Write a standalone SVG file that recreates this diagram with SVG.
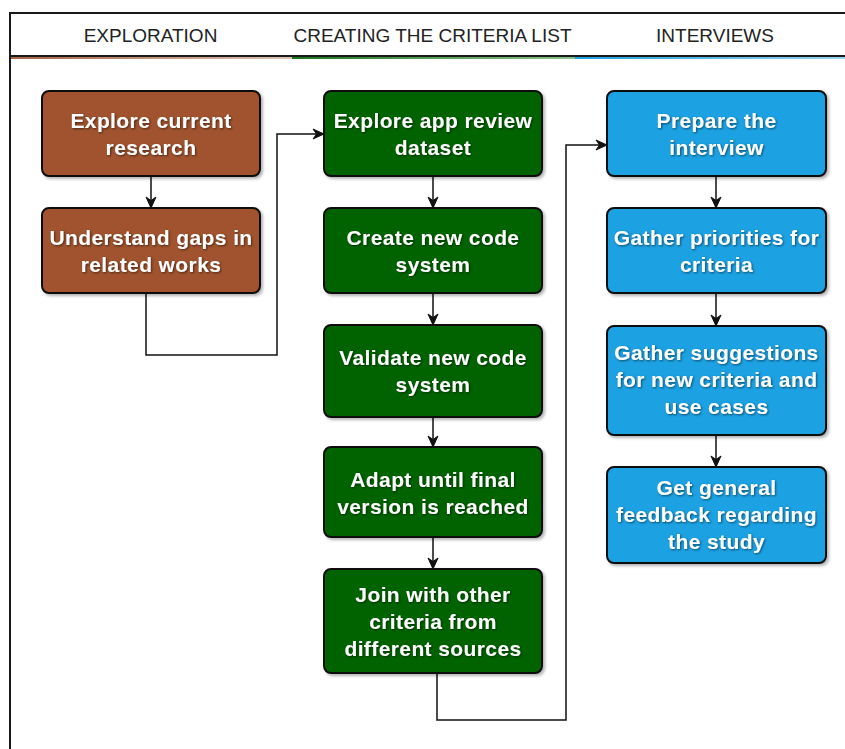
<svg xmlns="http://www.w3.org/2000/svg" width="845" height="749" viewBox="0 0 845 749">
  <style>
    .lane-title { font-family: "Liberation Sans", Arial, sans-serif; font-size: 19px; fill: #222222; text-anchor: middle; }
    .box { stroke: #111111; stroke-width: 2; filter: url(#boxShadow); }
    .brown { fill: #A0522D; }
    .green { fill: #006400; }
    .blue { fill: #1BA1E2; }
    .label { font-family: "Liberation Sans", Arial, sans-serif; font-size: 21px; font-weight: bold; fill: #ffffff; text-anchor: middle; letter-spacing: 0.4px; filter: url(#textShadow); }
    .edge { fill: none; stroke: #111111; stroke-width: 1.5; marker-end: url(#arrow); }
    .frame { fill: none; stroke: #1a1a1a; stroke-width: 2; }
  </style>
  <defs>
    <marker id="arrow" markerUnits="userSpaceOnUse" markerWidth="14" markerHeight="12" refX="12" refY="6" orient="auto">
      <path d="M1,1 L12,6 L1,11 L4.5,6 Z" fill="#111111" stroke="#111111" stroke-width="1"/>
    </marker>
    <filter id="boxShadow" x="-10%" y="-10%" width="125%" height="130%">
      <feDropShadow dx="2" dy="2" stdDeviation="1.5" flood-color="#000000" flood-opacity="0.3"/>
    </filter>
    <filter id="textShadow" x="-10%" y="-30%" width="120%" height="170%">
      <feDropShadow dx="1" dy="1" stdDeviation="1.2" flood-color="#000000" flood-opacity="0.55"/>
    </filter>
    <linearGradient id="gBrown" x1="0" y1="0" x2="1" y2="0">
      <stop offset="0" stop-color="#A0522D" stop-opacity="0.9"/>
      <stop offset="1" stop-color="#A0522D" stop-opacity="0.35"/>
    </linearGradient>
    <linearGradient id="gGreen" x1="0" y1="0" x2="1" y2="0">
      <stop offset="0" stop-color="#006400" stop-opacity="0.9"/>
      <stop offset="1" stop-color="#3a9a3a" stop-opacity="0.6"/>
    </linearGradient>
    <linearGradient id="gBlue" x1="0" y1="0" x2="1" y2="0">
      <stop offset="0" stop-color="#1BA1E2" stop-opacity="1"/>
      <stop offset="1" stop-color="#1BA1E2" stop-opacity="0.45"/>
    </linearGradient>
  </defs>

  <rect x="0" y="0" width="845" height="749" fill="#ffffff"/>

  <!-- pool frame and lane header -->
  <g id="lanes">
    <rect x="11" y="57" width="281" height="2" fill="url(#gBrown)"/>
    <rect x="292" y="57" width="283" height="2" fill="url(#gGreen)"/>
    <rect x="575" y="57" width="270" height="2" fill="url(#gBlue)"/>
    <path class="frame" d="M846,13 H10 V750"/>
    <path class="frame" d="M10,56 H846"/>
    <text class="lane-title" x="150.5" y="42">EXPLORATION</text>
    <text class="lane-title" x="432.5" y="42">CREATING THE CRITERIA LIST</text>
    <text class="lane-title" x="715" y="42">INTERVIEWS</text>
  </g>

  <!-- connectors -->
  <g id="connectors">
    <path class="edge" d="M151,176 V208"/>
    <path class="edge" d="M146,293 V355 H277 V134 H324"/>
    <path class="edge" d="M433,176 V208"/>
    <path class="edge" d="M433,293 V325"/>
    <path class="edge" d="M433,417 V447"/>
    <path class="edge" d="M433,537 V569"/>
    <path class="edge" d="M437,673 V720 H566 V145 H607"/>
    <path class="edge" d="M716,176 V208"/>
    <path class="edge" d="M716,293 V326"/>
    <path class="edge" d="M716,435 V467"/>
  </g>

  <!-- exploration lane -->
  <g id="explore-research">
    <rect class="box brown" x="42" y="91" width="218" height="85" rx="7"/>
    <text class="label" x="151" y="128">Explore current</text>
    <text class="label" x="151" y="155">research</text>
  </g>
  <g id="understand-gaps">
    <rect class="box brown" x="42" y="208" width="218" height="85" rx="7"/>
    <text class="label" x="151" y="245">Understand gaps in</text>
    <text class="label" x="151" y="272">related works</text>
  </g>

  <!-- criteria list lane -->
  <g id="explore-dataset">
    <rect class="box green" x="324" y="91" width="218" height="85" rx="7"/>
    <text class="label" x="433" y="128">Explore app review</text>
    <text class="label" x="433" y="155">dataset</text>
  </g>
  <g id="create-code-system">
    <rect class="box green" x="324" y="208" width="218" height="85" rx="7"/>
    <text class="label" x="433" y="245">Create new code</text>
    <text class="label" x="433" y="272">system</text>
  </g>
  <g id="validate-code-system">
    <rect class="box green" x="324" y="325" width="218" height="92" rx="7"/>
    <text class="label" x="433" y="365">Validate new code</text>
    <text class="label" x="433" y="392">system</text>
  </g>
  <g id="adapt-final-version">
    <rect class="box green" x="324" y="447" width="218" height="90" rx="7"/>
    <text class="label" x="433" y="487">Adapt until final</text>
    <text class="label" x="433" y="514">version is reached</text>
  </g>
  <g id="join-criteria">
    <rect class="box green" x="324" y="569" width="218" height="104" rx="7"/>
    <text class="label" x="433" y="602">Join with other</text>
    <text class="label" x="433" y="629">criteria from</text>
    <text class="label" x="433" y="656">different sources</text>
  </g>

  <!-- interviews lane -->
  <g id="prepare-interview">
    <rect class="box blue" x="607" y="91" width="219" height="85" rx="7"/>
    <text class="label" x="716.5" y="128">Prepare the</text>
    <text class="label" x="716.5" y="155">interview</text>
  </g>
  <g id="gather-priorities">
    <rect class="box blue" x="607" y="208" width="219" height="85" rx="7"/>
    <text class="label" x="716.5" y="245">Gather priorities for</text>
    <text class="label" x="716.5" y="272">criteria</text>
  </g>
  <g id="gather-suggestions">
    <rect class="box blue" x="607" y="326" width="219" height="109" rx="7"/>
    <text class="label" x="716.5" y="360">Gather suggestions</text>
    <text class="label" x="716.5" y="387">for new criteria and</text>
    <text class="label" x="716.5" y="414">use cases</text>
  </g>
  <g id="general-feedback">
    <rect class="box blue" x="607" y="467" width="219" height="96" rx="7"/>
    <text class="label" x="716.5" y="495">Get general</text>
    <text class="label" x="716.5" y="522">feedback regarding</text>
    <text class="label" x="716.5" y="549">the study</text>
  </g>
</svg>
